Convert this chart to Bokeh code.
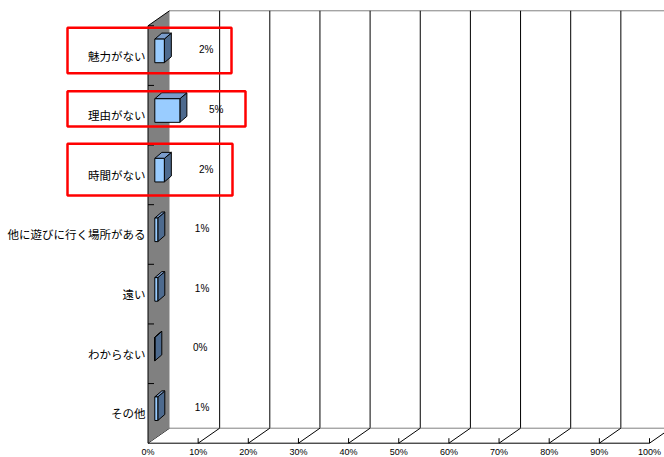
from bokeh.plotting import figure
from bokeh.models import Range1d
from bokeh.core.properties import value
from bokeh.embed import file_html
from bokeh.resources import INLINE

# ---------------- data ----------------
categories = ["魅力がない", "理由がない", "時間がない", "他に遊びに行く場所がある", "遠い", "わからない", "その他"]
percent = [1.9, 5.0, 1.9, 0.6, 0.6, 0.0, 0.6]
x_ticks = [0, 10, 20, 30, 40, 50, 60, 70, 80, 90, 100]
x_tick_labels = ["0%", "10%", "20%", "30%", "40%", "50%", "60%", "70%", "80%", "90%", "100%"]
highlighted = ["魅力がない", "理由がない", "時間がない"]

# ---------------- geometry (pixels -> data) ----------------
W, H = 664, 457
X0_PX, PXU = 147.5, 5.015     # px of 0 %, px per percent
Y0_PX, PYU = 442.7, 59.63     # px of bottom front axis, px per category band


def xd(px):
    return (px - X0_PX) / PXU


def yd(py):
    return (Y0_PX - py) / PYU


def lx(px):
    return px / PXU


def ly(px):
    return px / PYU


N = len(categories)
DX, DY = lx(21.5), ly(15)           # chart depth
BOX_X, BOX_Y = lx(6.8), ly(4.7)     # bar front offset into depth
BDX, BDY = lx(7), ly(6)             # bar depth
BAR_H = ly(23.6)

p = figure(width=W, height=H, x_range=Range1d(xd(0), xd(W)), y_range=Range1d(yd(H), yd(0)),
           output_backend="svg", toolbar_location=None, min_border=0,
           x_axis_type=None, y_axis_type=None)
p.outline_line_color = None
p.background_fill_color = "white"
p.border_fill_color = "white"
p.grid.visible = False

XMAX = x_ticks[-1]
x_end = xd(W) + 1

# back wall: top border and vertical grid lines
p.line([DX, x_end], [N + DY, N + DY], line_color="#808080", line_width=1)
p.multi_line([[t + DX, t + DX] for t in x_ticks[1:]], [[DY, N + DY] for _ in x_ticks[1:]],
             line_color="#000000", line_width=1)
# floor
p.line([DX, x_end], [DY, DY], line_color="#808080", line_width=1)
p.multi_line([[t, t + DX] for t in x_ticks], [[0, DY] for _ in x_ticks], line_color="#000000", line_width=1)

# left wall
p.patch([0, DX, DX, 0], [0, DY, N + DY, N], fill_color="#808080", line_color=None)
p.line([0, DX], [N, N + DY], line_color="#000000", line_width=1)
p.line([0, 0], [0, N], line_color="#000000", line_width=1)
# left axis ticks (pointing inward)
p.multi_line([[0, lx(6)] for k in range(1, N + 1)], [[k, k] for k in range(1, N + 1)],
             line_color="#000000", line_width=1)
# front bottom axis
p.line([0, XMAX], [0, 0], line_color="#000000", line_width=1)
p.multi_line([[t, t] for t in x_ticks[1:]], [[0, ly(5)] for _ in x_ticks[1:]],
             line_color="#000000", line_width=1)

# bars (3D boxes)
front_x, front_y, top_x, top_y, side_x, side_y = [], [], [], [], [], []
centers = [N - i - 0.5 for i in range(N)]
for v, c in zip(percent, centers):
    l = BOX_X
    r = BOX_X + v
    b = c + BOX_Y - BAR_H / 2
    t = c + BOX_Y + BAR_H / 2
    front_x.append([l, r, r, l]); front_y.append([b, b, t, t])
    top_x.append([l, r, r + BDX, l + BDX]); top_y.append([t, t, t + BDY, t + BDY])
    side_x.append([r, r + BDX, r + BDX, r]); side_y.append([b, b + BDY, t + BDY, t])

p.patches(side_x, side_y, fill_color="#4D6A8E", line_color="#000000", line_width=1)
p.patches(top_x, top_y, fill_color="#7A9CCB", line_color="#000000", line_width=1)
p.patches(front_x, front_y, fill_color="#99CCFF", line_color="#000000", line_width=1)

# value labels
p.text(x=[10.4 + 0.64 * v for v in percent], y=[c + ly(5.8) for c in centers],
       text=[f"{round(v)}%" for v in percent], text_font=value("Liberation Sans"),
       text_font_size="10px", text_align="center", text_baseline="middle", text_color="#000000")

# category labels
p.text(x=[xd(145)] * N, y=centers, text=categories, text_font=value("Noto Sans CJK JP"),
       text_font_size="11.5px", text_align="right", text_baseline="middle", text_color="#000000")

# x tick labels
p.text(x=x_ticks, y=[yd(446.5)] * len(x_ticks), text=x_tick_labels, text_font=value("Liberation Sans"),
       text_font_size="9px", text_align="center", text_baseline="top", text_color="#000000")

# red highlight boxes (hand-drawn annotation): (left px, right px, top offset px, bottom offset px)
box_geom = [(67, 231, -27.8, 17.6), (67, 245, -24.0, 11.3), (67, 232, -31.1, 20.6)]
bl, br, bt, bb = [], [], [], []
for name, (lpx, rpx, toff, boff) in zip(highlighted, box_geom):
    c = centers[categories.index(name)]
    bl.append(xd(lpx)); br.append(xd(rpx))
    bt.append(c - ly(toff)); bb.append(c - ly(boff))
p.quad(left=bl, right=br, top=bt, bottom=bb, fill_alpha=0, line_color="#FF0000", line_width=2.5)

open("out.html", "w").write(file_html(p, INLINE))
